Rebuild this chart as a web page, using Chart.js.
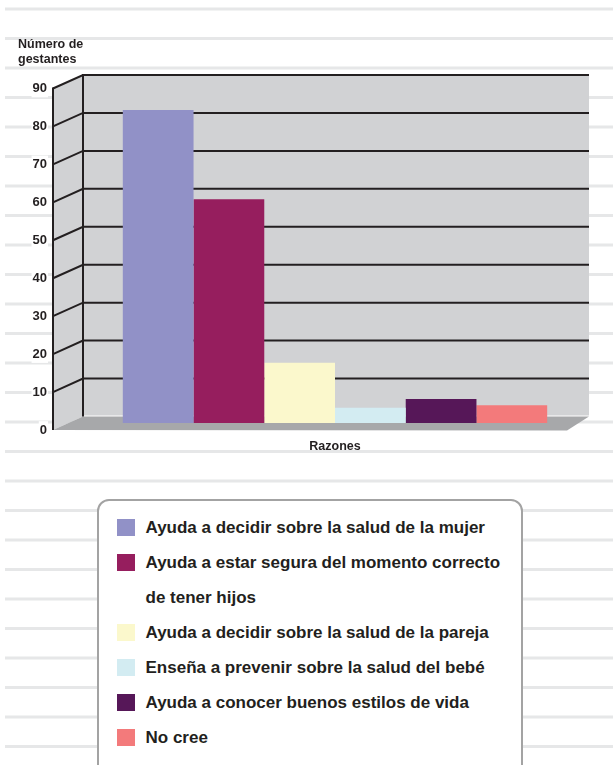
<!DOCTYPE html>
<html>
<head>
<meta charset="utf-8">
<script src="https://cdn.jsdelivr.net/npm/chart.js@4"></script>
<style>
  body { margin: 0; background: #fff; }
  #wrap { position: relative; width: 613px; height: 765px; overflow: hidden; }
  #chart { position: absolute; left: 0; top: 0; }
  #ytitle {
    position: absolute; left: 18px; top: 36.5px;
    font: bold 12.5px "Liberation Sans", Arial, sans-serif;
    line-height: 15px; color: #231f20;
  }
  #legend {
    position: absolute; left: 97px; top: 499px; width: 426px; height: 290px;
    border: 2px solid #a3a3a3; border-radius: 12px; background: #fff;
    padding: 8.5px 0 0 18px; box-sizing: border-box;
  }
  .item { display: flex; align-items: flex-start; }
  .box { width: 18px; height: 17px; margin-top: 9px; margin-right: 10.5px; flex: none; }
  .txt {
    width: 368px;
    font: bold 17px "Liberation Sans", Arial, sans-serif;
    line-height: 35px; color: #231f20;
  }
</style>
</head>
<body>
<div id="wrap">
  <canvas id="chart" width="613" height="765"></canvas>
  <div id="ytitle">Número de<br>gestantes</div>
  <div id="legend"></div>
</div>
<script>
const categories = [
  'Ayuda a decidir sobre la salud de la mujer',
  'Ayuda a estar segura del momento correcto de tener hijos',
  'Ayuda a decidir sobre la salud de la pareja',
  'Enseña a prevenir sobre la salud del bebé',
  'Ayuda a conocer buenos estilos de vida',
  'No cree'
];
const values = [82.5, 59, 15.9, 4, 6.3, 4.7];
const colors = ['#9191c7', '#961e5e', '#fbf8cc', '#d3ecf2', '#561758', '#f37a7b'];
const yTicks = [0, 10, 20, 30, 40, 50, 60, 70, 80, 90];
const xTitle = 'Razones';

const INK = '#231f20';
const WALL = '#d1d2d4';
const FLOOR = '#a7a8aa';

// 3D look: walls drawn behind the bars, offsets from the bar plane
const BACK_DY = -6.5, FRONT_DY = 7, DEPTH_DX = 30;

const room = {
  id: 'room',
  beforeDraw(chart) {
    const ctx = chart.ctx;
    const y = chart.scales.y;
    const a = chart.chartArea;
    const backL = a.left, backR = a.right + 2, frontL = backL - DEPTH_DX, frontR = backR - 22;
    const top = y.getPixelForValue(yTicks[yTicks.length - 1]);
    const base = y.getPixelForValue(0);

    ctx.save();
    // notebook lines in the page background
    ctx.strokeStyle = '#e6e7e8';
    ctx.lineWidth = 3;
    for (let ly = 9; ly < 765; ly += 29.5) {
      ctx.beginPath();
      ctx.moveTo(5, ly);
      ctx.lineTo(613, ly);
      ctx.stroke();
    }

    // side wall
    ctx.fillStyle = WALL;
    ctx.beginPath();
    ctx.moveTo(frontL, top + FRONT_DY);
    ctx.lineTo(backL, top + BACK_DY);
    ctx.lineTo(backL, base + BACK_DY);
    ctx.lineTo(frontL, base + FRONT_DY);
    ctx.closePath();
    ctx.fill();
    // back wall
    ctx.fillRect(backL, top + BACK_DY - 1, backR - backL, base - top);
    // floor
    ctx.fillStyle = FLOOR;
    ctx.beginPath();
    ctx.moveTo(backL, base + BACK_DY);
    ctx.lineTo(backR, base + BACK_DY);
    ctx.lineTo(frontR, base + FRONT_DY + 0.5);
    ctx.lineTo(frontL, base + FRONT_DY);
    ctx.closePath();
    ctx.fill();

    // grid lines on back and side walls
    ctx.strokeStyle = INK;
    ctx.lineWidth = 2;
    yTicks.forEach(v => {
      if (v === 0) return;
      const p = y.getPixelForValue(v);
      ctx.beginPath();
      ctx.moveTo(frontL, p + FRONT_DY);
      ctx.lineTo(backL, p + BACK_DY);
      ctx.lineTo(backR, p + BACK_DY);
      ctx.stroke();
    });
    // vertical edges
    ctx.beginPath();
    ctx.moveTo(frontL, top + FRONT_DY - 1);
    ctx.lineTo(frontL, base + FRONT_DY);
    ctx.moveTo(backL, top + BACK_DY - 1);
    ctx.lineTo(backL, base + BACK_DY);
    ctx.stroke();
    ctx.restore();
  }
};

const datasets = categories.map((c, i) => ({
  label: c,
  data: [values[i]],
  backgroundColor: colors[i],
  borderWidth: 0,
  barPercentage: 1,
  categoryPercentage: 0.842
}));

new Chart(document.getElementById('chart'), {
  type: 'bar',
  data: { labels: [xTitle], datasets },
  options: {
    responsive: false,
    animation: false,
    layout: { padding: { left: 0, top: 81.5, right: 26, bottom: 310 } },
    scales: {
      x: {
        grid: { display: false, drawTicks: false },
        border: { display: false },
        ticks: { display: false },
        title: {
          display: true,
          text: xTitle,
          color: INK,
          font: { family: '"Liberation Sans", Arial, sans-serif', size: 12.5, weight: 'bold' },
          padding: { top: 0, bottom: 1 }
        },
        afterFit: s => { s.height = 32; }
      },
      y: {
        min: 0,
        max: 90,
        afterBuildTicks: s => { s.ticks = yTicks.map(v => ({ value: v })); },
        grid: { display: false, drawTicks: false },
        border: { display: false },
        ticks: {
          color: INK,
          padding: 36,
          labelOffset: FRONT_DY,
          showLabelBackdrop: true,
          backdropColor: '#fff',
          backdropPadding: 1,
          font: { family: '"Liberation Sans", Arial, sans-serif', size: 13, weight: 'bold' }
        },
        afterFit: s => { s.width = 83; }
      }
    },
    plugins: {
      legend: { display: false },
      tooltip: { enabled: false }
    }
  },
  plugins: [room]
});

// legend as html so the long label can wrap like the original
const legend = document.getElementById('legend');
categories.forEach((c, i) => {
  const row = document.createElement('div');
  row.className = 'item';
  row.innerHTML = `<div class="box" style="background:${colors[i]}"></div><div class="txt">${c}</div>`;
  legend.appendChild(row);
});
</script>
</body>
</html>
